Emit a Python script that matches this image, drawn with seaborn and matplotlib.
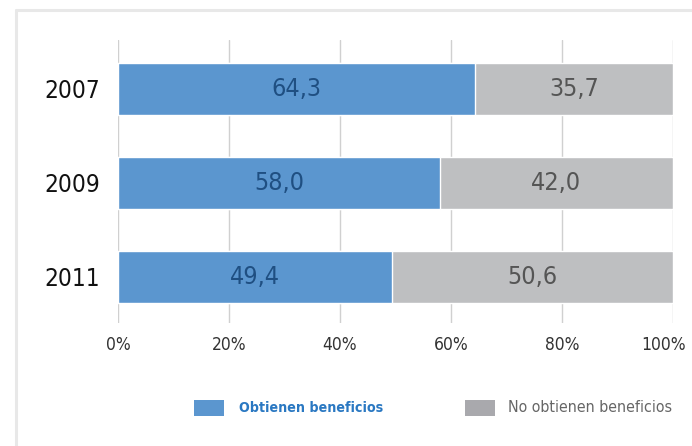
import matplotlib
matplotlib.use("Agg")
import matplotlib.pyplot as plt
import matplotlib.transforms as mtransforms
from matplotlib.lines import Line2D
from matplotlib.patches import Rectangle
import seaborn as sns
import pandas as pd

years = ["2007", "2009", "2011"]
obtienen = [64.3, 58.0, 49.4]
no_obtienen = [35.7, 42.0, 50.6]
x_ticks = [0, 20, 40, 60, 80, 100]
x_tick_labels = ["0%", "20%", "40%", "60%", "80%", "100%"]
series_names = ["Obtienen beneficios", "No obtienen beneficios"]

blue = "#5b96cf"
grey = "#bebfc1"

df = pd.DataFrame({"year": years, "obtienen": obtienen, "no_obtienen": no_obtienen})
df["total"] = df["obtienen"] + df["no_obtienen"]

sns.set_style("white")
plt.rcParams["font.family"] = ["DejaVu Sans"]

W, H = 692, 446
fig = plt.figure(figsize=(W / 100, H / 100), dpi=100)
ax = fig.add_axes([118 / W, 1 - 323 / H, 555 / W, 283 / H])

sns.barplot(data=df, y="year", x="total", color=grey, orient="h",
            width=0.56, saturation=1, ax=ax, zorder=2)
sns.barplot(data=df, y="year", x="obtienen", color=blue, orient="h",
            width=0.56, saturation=1, ax=ax, zorder=3)

ax.set_xlim(0, 100)
ax.set_ylim(2.49, -0.52)
ax.set_xticks(x_ticks)
ax.set_xticklabels(x_tick_labels, fontsize=12.5, color="#333333", stretch="condensed")
ax.tick_params(axis="x", length=0, pad=9)
ax.set_yticks(range(len(years)))
ax.set_yticklabels(years, fontsize=17.5, color="#111111", stretch="condensed")
ax.tick_params(axis="y", length=0, pad=13)
ax.set_xlabel("")
ax.set_ylabel("")
for s in ax.spines.values():
    s.set_visible(False)
ax.grid(axis="x", color="#d0d0d0", linewidth=1, zorder=0)
ax.set_axisbelow(True)

# pull the last percentage label inside the frame
last = ax.get_xticklabels()[-1]
last.set_transform(last.get_transform() + mtransforms.ScaledTranslation(-9 / 100, 0, fig.dpi_scale_trans))

for i in range(len(years)):
    ax.text(obtienen[i] / 2, i, f"{obtienen[i]:.1f}".replace(".", ","),
            ha="center", va="center", fontsize=18, color="#1f4f82",
            stretch="condensed", zorder=5)
    ax.text(obtienen[i] + no_obtienen[i] / 2, i, f"{no_obtienen[i]:.1f}".replace(".", ","),
            ha="center", va="center", fontsize=18, color="#555555",
            stretch="condensed", zorder=5)

# legend: swatches and labels below the axes
fig.add_artist(Rectangle((194 / W, 1 - 416 / H), 30 / W, 16 / H,
                         transform=fig.transFigure, facecolor=blue, edgecolor="none"))
fig.text(239 / W, 1 - 408 / H, series_names[0], ha="left", va="center",
         fontsize=10.2, fontweight="bold", color="#2a78c2", stretch="condensed")
fig.add_artist(Rectangle((465 / W, 1 - 416 / H), 30 / W, 16 / H,
                         transform=fig.transFigure, facecolor="#a9a9ad", edgecolor="none"))
fig.text(508 / W, 1 - 408 / H, series_names[1], ha="left", va="center",
         fontsize=11.4, color="#666666", stretch="condensed")

# light frame along the top and left edges
fig.add_artist(Line2D([15.5 / W, 1], [1 - 9.5 / H, 1 - 9.5 / H],
                      transform=fig.transFigure, color="#e8e8e8", linewidth=2.2))
fig.add_artist(Line2D([15.5 / W, 15.5 / W], [1 - 9.5 / H, 0],
                      transform=fig.transFigure, color="#e8e8e8", linewidth=2.2))

fig.savefig("out.png", dpi=100)
